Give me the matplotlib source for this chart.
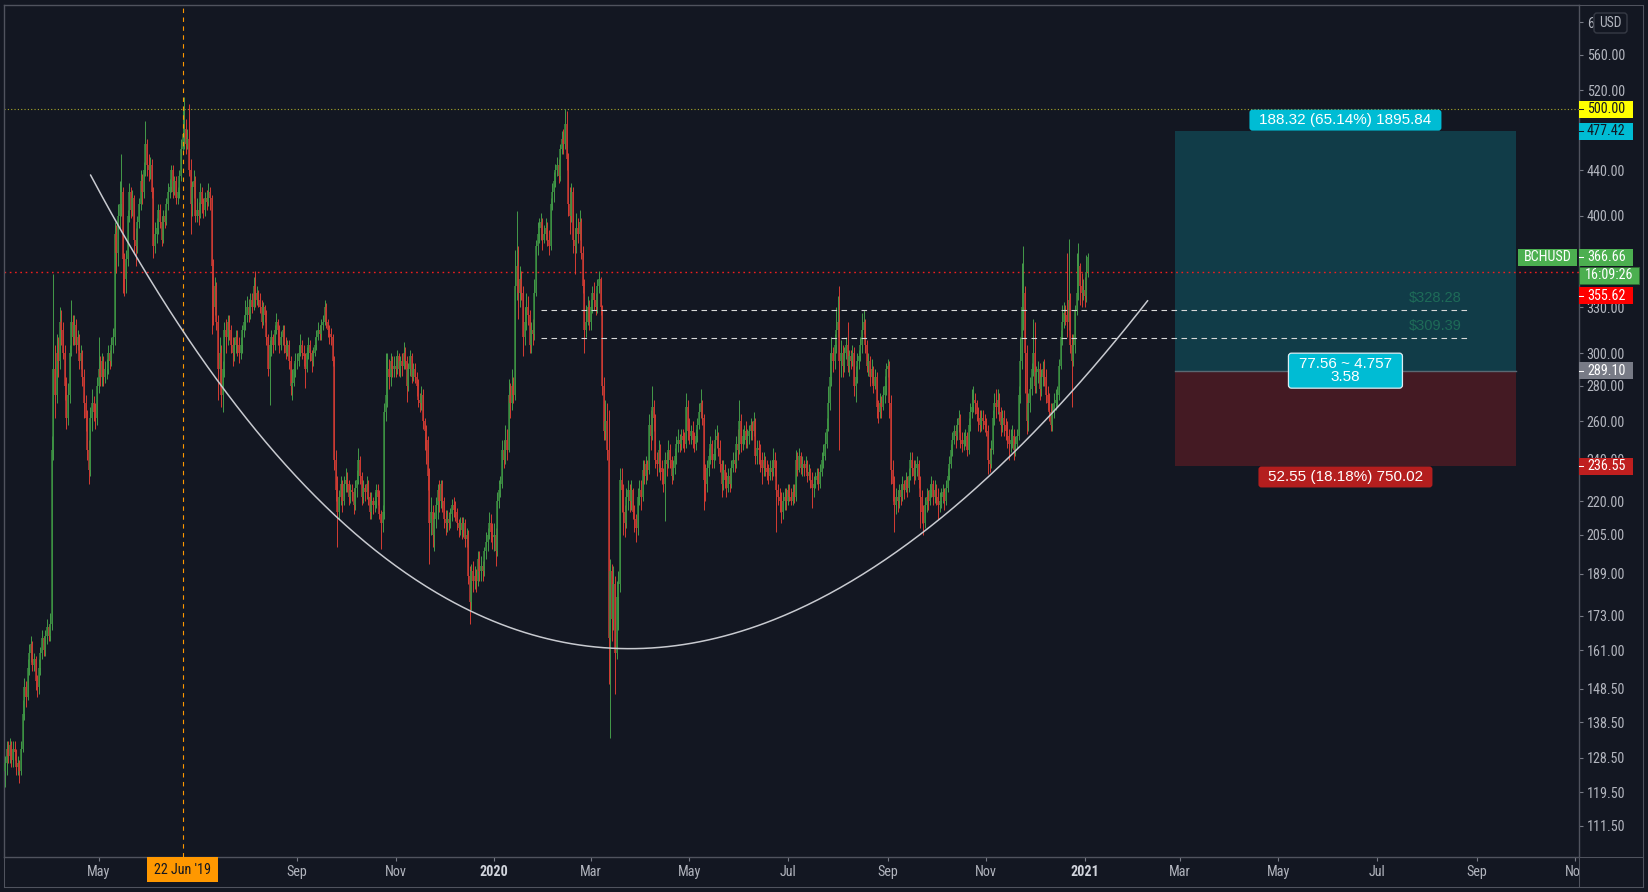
import numpy as np
import pandas as pd
import matplotlib
matplotlib.use("Agg")
import matplotlib.pyplot as plt
import matplotlib.dates as mdates
from matplotlib.collections import LineCollection
from matplotlib.patches import Rectangle, FancyBboxPatch
from matplotlib.lines import Line2D
from matplotlib.transforms import IdentityTransform
from matplotlib.ticker import FixedLocator, FixedFormatter, NullLocator
from matplotlib import font_manager

# ---------------- data (BCHUSD daily) ----------------
start_date = "2019-03-04"
first_open = 125.0

close = [
    # 2019-03
    127,131,129,132,128,131,130,126,127,125,131,141,149,146,155,160,163,156,158,151,149,155,160,165,161,166,169,166,
    # 2019-04
    170,245,290,275,300,295,320,315,300,280,262,275,300,320,310,318,305,310,295,300,285,270,262,245,235,262,270,265,262,280,
    # 2019-05
    290,285,295,285,290,290,300,295,305,310,385,370,400,410,420,365,350,365,400,420,405,415,380,375,395,410,430,420,440,465,445,
    # 2019-06
    440,445,420,375,385,390,405,395,380,400,395,410,420,425,440,420,430,415,420,435,460,475,480,465,470,440,410,425,430,400,
    # 2019-07
    405,400,420,410,405,415,412,420,415,360,330,345,320,290,300,275,290,315,310,320,315,305,300,305,310,305,300,305,315,320,325,
    # 2019-08
    330,325,335,330,345,335,340,335,330,320,330,325,310,290,305,310,305,315,320,315,305,310,315,305,300,305,295,280,282,290,295,
    # 2019-09
    295,300,305,300,298,290,300,305,300,295,300,305,310,315,312,318,320,330,320,315,312,310,295,240,225,215,222,228,220,228,
    # 2019-10
    230,228,222,225,224,218,226,230,240,232,222,226,224,228,222,215,220,218,220,225,222,214,210,215,265,275,290,285,295,290,292,
    # 2019-11
    290,298,290,295,292,300,295,280,290,298,285,290,285,280,272,270,275,260,255,250,232,210,215,205,212,218,225,220,228,220,
    # 2019-12
    212,210,212,210,214,218,216,215,210,208,210,207,210,203,205,188,178,190,186,188,186,195,190,192,190,198,202,205,210,206,204,
    # 2020-01
    205,198,220,225,228,245,240,250,245,275,270,280,275,345,360,340,350,340,310,320,330,325,305,315,312,340,375,385,390,395,380,
    # 2020-02
    385,390,380,375,410,420,430,440,445,435,460,470,465,485,450,410,400,420,380,375,390,385,395,370,345,315,320,330,320,
    # 2020-03
    330,340,335,330,345,350,330,280,255,260,245,165,190,172,185,160,180,185,230,225,215,210,222,225,220,225,215,212,208,222,225,
    # 2020-04
    222,235,232,238,235,258,252,268,262,240,238,245,236,234,228,240,238,245,240,232,236,242,248,250,248,252,250,248,268,255,
    # 2020-05
    252,255,250,248,252,258,265,270,262,230,228,236,242,248,240,243,250,252,246,238,228,235,230,226,232,228,236,240,238,248,245,
    # 2020-06
    260,248,252,255,250,252,255,258,255,260,242,246,245,240,236,240,236,234,232,236,234,240,236,225,222,220,215,220,222,220,
    # 2020-07
    225,222,220,224,222,240,235,242,236,238,236,238,232,234,230,226,228,230,232,228,234,240,242,248,256,270,285,300,295,305,315,
    # 2020-08
    320,295,300,292,300,305,292,298,295,300,280,285,295,298,305,315,320,305,292,295,285,290,280,285,268,265,270,268,275,280,290,
    # 2020-09
    292,270,235,228,218,222,220,225,222,228,225,230,226,232,240,236,232,236,238,230,222,215,210,218,222,220,225,228,222,225,
    # 2020-10
    222,218,220,222,224,220,226,232,238,245,250,255,252,258,262,250,248,250,252,245,258,265,268,272,270,264,262,258,262,260,258,
    # 2020-11
    255,240,238,245,262,270,268,272,265,258,262,258,255,252,248,250,252,245,248,252,275,295,330,340,300,260,270,278,290,300,
    # 2020-12
    280,288,290,278,285,290,285,275,270,265,258,265,270,272,275,292,310,320,326,325,320,335,305,295,305,328,340,360,345,340,342,
    # 2021-01
    338,355.62,366.66,
]

high = [
    129,133,133,134,133,133,133,131,129,128,133,145,152,151,158,163,166,164,160,159,153,158,162,168,166,168,172,170,
    174,252,354,305,312,310,330,328,320,305,285,282,305,335,325,325,322,315,312,305,302,290,275,266,250,268,278,274,270,285,
    310,298,300,298,295,296,305,302,310,316,395,392,410,430,455,425,370,372,405,428,425,422,418,390,400,415,440,436,448,488,470,
    455,452,450,425,395,398,410,410,400,405,405,415,428,432,445,445,435,435,425,440,470,500,513,490,480,505,450,430,440,435,
    415,412,428,425,415,420,422,428,425,418,365,352,348,325,310,305,295,320,322,325,325,318,310,310,315,315,310,310,318,325,335,
    338,336,340,340,352,356,345,342,340,335,334,332,328,312,308,315,312,318,326,322,318,314,318,318,310,308,308,298,290,294,300,
    300,305,312,308,305,300,304,310,308,302,304,310,315,320,318,322,325,335,333,322,318,316,312,298,245,232,225,232,230,232,
    236,234,230,228,228,226,230,235,246,242,234,230,228,232,230,224,224,222,224,228,228,225,216,218,270,300,300,296,300,298,298,
    298,302,300,298,300,307,304,298,294,302,300,294,294,288,284,276,280,278,262,258,252,236,222,218,215,222,228,230,230,230,
    222,216,216,215,217,221,222,220,217,212,213,213,213,212,208,207,192,193,194,192,191,198,198,196,194,200,206,208,215,214,210,
    210,208,224,230,232,250,250,258,256,284,282,290,285,372,404,375,360,356,345,330,340,338,328,320,322,350,380,395,398,402,398,
    392,398,395,388,415,428,438,446,452,450,465,478,480,500,498,456,425,428,425,390,402,398,405,398,375,350,332,338,335,
    336,345,348,340,350,356,352,332,285,272,270,266,195,193,192,188,186,190,236,236,228,218,226,230,228,230,226,218,214,226,230,
    230,240,240,242,240,264,266,280,272,264,244,250,248,240,236,244,244,250,248,242,240,246,252,256,253,256,256,254,276,272,
    262,258,260,254,256,262,270,278,272,264,238,240,246,252,250,246,256,258,254,250,240,240,238,234,236,236,240,244,244,252,256,
    272,264,256,258,260,256,258,262,260,265,262,250,250,248,244,244,242,240,238,240,240,246,244,240,228,226,224,224,226,226,
    228,228,226,228,228,245,244,246,244,242,240,242,240,238,236,234,232,234,236,236,238,244,248,254,262,280,300,310,304,312,330,
    338,345,308,305,304,310,320,302,302,305,304,292,300,302,310,326,328,322,308,300,298,296,292,290,288,272,276,274,280,286,294,
    296,295,275,240,232,226,225,228,228,232,230,234,232,236,244,244,240,240,242,240,232,225,218,222,226,225,228,232,230,230,
    228,226,224,226,228,226,230,236,242,248,254,258,258,262,266,264,254,254,256,254,262,270,278,280,276,272,268,266,266,266,264,
    262,258,246,250,266,276,278,278,276,268,266,266,262,260,256,256,258,256,252,256,280,310,362,375,345,305,276,285,294,322,
    320,292,295,294,290,295,296,290,280,276,270,270,276,278,280,296,315,332,334,332,370,381,340,312,312,332,370,378,362,355,350,
    352,368,370,
]

low = [
    121,124,127,127,126,126,128,124,124,122,124,130,139,143,145,153,157,154,154,148,146,147,153,158,159,159,163,164,
    164,168,240,262,270,285,290,305,296,272,256,258,270,298,305,305,300,302,290,290,280,262,255,240,228,232,255,260,256,258,
    276,280,280,280,282,284,287,290,292,300,305,355,360,390,400,340,338,340,360,395,398,400,370,360,370,390,405,410,415,435,435,
    430,432,415,366,370,378,385,390,375,378,390,392,405,415,420,415,418,410,410,415,430,455,460,455,460,435,385,400,415,395,
    395,392,398,402,398,400,405,408,405,312,318,325,315,272,280,268,265,285,300,305,308,300,292,295,300,298,294,296,300,310,315,
    320,320,322,326,328,330,332,330,326,316,318,320,305,286,269,298,300,302,312,305,300,302,305,300,296,298,290,275,272,280,285,
    290,292,298,296,292,279,288,296,295,288,292,298,302,308,308,308,315,318,316,310,306,305,292,235,220,200,212,218,215,218,
    224,224,218,219,220,214,216,222,228,228,218,219,220,221,218,212,212,214,215,217,218,212,199,206,212,260,268,278,280,285,285,
    285,287,286,285,286,290,290,271,277,286,282,283,282,274,268,265,266,256,245,238,225,193,205,200,198,208,212,215,217,215,
    208,205,206,207,208,211,213,211,207,204,205,203,204,200,200,185,170,175,182,183,182,184,186,186,186,188,195,198,203,202,199,
    198,192,196,217,222,226,236,238,240,244,262,266,270,272,335,322,330,335,298,305,315,318,300,300,305,308,338,368,378,380,372,
    378,380,375,368,372,405,412,425,435,428,430,455,455,460,440,400,385,395,370,354,370,378,380,365,340,300,310,318,315,
    315,326,328,325,326,340,325,275,250,250,240,150,134,164,168,147,158,168,182,215,205,204,208,216,215,216,212,206,202,205,218,
    216,220,228,228,230,233,245,250,255,236,232,234,230,228,224,211,232,236,236,228,230,233,238,244,244,245,246,244,246,250,
    248,248,246,244,245,249,256,262,258,216,220,224,232,238,236,236,240,246,242,234,222,225,226,222,224,224,226,234,234,236,240,
    243,244,245,248,246,246,248,250,250,252,238,238,238,234,228,232,232,230,228,230,230,232,232,206,218,215,210,212,216,216,
    218,220,218,218,219,220,232,234,233,232,232,234,229,230,226,217,222,226,228,225,226,232,236,240,246,255,266,280,288,290,300,
    310,245,285,285,288,296,288,286,290,292,274,271,282,290,295,300,312,300,288,286,280,282,276,278,262,259,262,262,266,270,275,
    285,262,228,220,206,214,215,217,218,220,221,224,222,224,230,232,228,230,232,226,208,210,205,208,215,216,218,222,218,219,
    218,212,215,217,219,216,218,224,230,236,242,248,246,250,254,246,244,245,247,242,243,255,262,265,264,260,255,254,255,256,254,
    252,233,234,236,243,258,262,264,260,252,254,252,250,246,240,244,246,240,242,246,250,270,290,315,276,253,255,265,275,286,
    276,276,282,272,274,280,280,270,266,260,255,255,262,266,268,272,290,305,316,318,310,315,300,268,292,300,325,335,332,330,335,
    330,334,352,
]

# tick values visible on the price scale (ticks hidden under price tags are left out)
y_ticks = [111.5, 119.5, 128.5, 138.5, 148.5, 161, 173, 189, 205, 220, 240, 260,
           280, 300, 330, 400, 440, 520, 560, 600]
x_tick_dates = ["2019-05-01", "2019-09-01", "2019-11-01", "2020-01-01",
                "2020-03-01", "2020-05-01", "2020-07-01", "2020-09-01", "2020-11-01",
                "2021-01-01", "2021-03-01", "2021-05-01", "2021-07-01", "2021-09-01",
                "2021-11-01"]
x_tick_labels = ["May", "Sep", "Nov", "2020", "Mar", "May", "Jul", "Sep", "Nov",
                 "2021", "Mar", "May", "Jul", "Sep", "Nov"]

# drawings
alert_level = 500.00
ref_price = 355.62
last_price = 366.66
cursor_date = "2019-06-22"
cursor_label = "22 Jun '19"
level_prices = [328.28, 309.39]
level_start, level_end = "2020-01-30", "2021-08-26"
entry_price, target_price, stop_price = 289.10, 477.42, 236.55
box_start, box_end = "2021-02-26", "2021-09-25"
target_text = "188.32 (65.14%) 1895.84"
ratio_text = "77.56 ~ 4.757\n3.58"
stop_text = "52.55 (18.18%) 750.02"
countdown_text = "16:09:26"
symbol_text = "BCHUSD"
arc_dates = ["2019-04-26", "2020-02-10", "2021-02-09"]
arc_prices = [435.6, 69.0, 334.8]

# ---------------- style ----------------
BG = "#131722"
FRAME = "#50535e"
TXT = "#b2b5be"
UP_WICK, UP_BODY = "#4caf50", "#3b8f41"
DN_WICK, DN_BODY = "#f44336", "#c93a33"


def pick_font(cands):
    for name in cands:
        try:
            font_manager.findfont(font_manager.FontProperties(family=name),
                                  fallback_to_default=False)
            return name
        except Exception:
            continue
    return "DejaVu Sans"


NARROW = pick_font(["Liberation Sans Narrow", "Roboto Condensed", "Liberation Sans"])
REG = pick_font(["Liberation Sans", "Roboto", "DejaVu Sans"])
NSIZE = 8.6 if NARROW in ("Liberation Sans", "DejaVu Sans") else 10.2

W, H = 1648, 892
PL, PR, PT, PB = 3.5, 1579.0, 5.0, 857.0
XR, YB = 1642.5, 886.5

fig = plt.figure(figsize=(W / 100, H / 100), dpi=100, facecolor=BG)
ax = fig.add_axes([PL / W, 1 - PB / H, (PR - PL) / W, (PB - PT) / H])
ax.set_facecolor(BG)

# ---------------- candles ----------------
dates = pd.date_range(start_date, periods=len(close), freq="D")
xs = mdates.date2num(dates)
c = np.array(close, dtype=float)
o = np.r_[first_open, c[:-1]]
hi = np.maximum(np.array(high, dtype=float), np.maximum(o, c))
lo = np.minimum(np.array(low, dtype=float), np.minimum(o, c))
is_up = c >= o
wick_cols = np.where(is_up, UP_WICK, DN_WICK)
body_cols = np.where(is_up, UP_BODY, DN_BODY)
wicks = [[(x, l), (x, h)] for x, l, h in zip(xs, lo, hi)]
bodies = [[(x, a), (x, b)] for x, a, b in zip(xs, np.minimum(o, c), np.maximum(o, c))]
ax.add_collection(LineCollection(wicks, colors=wick_cols, linewidths=0.6, zorder=3))
ax.add_collection(LineCollection(bodies, colors=body_cols, linewidths=1.1, zorder=3,
                                 capstyle="butt"))

# ---------------- scales ----------------
ax.set_yscale("log")
ax.set_ylim(104.4, 621.8)
d_ref = mdates.date2num(pd.Timestamp("2020-01-01"))
ax.set_xlim(d_ref - 303.9, d_ref + 672.2)

ax.yaxis.tick_right()
ax.yaxis.set_major_locator(FixedLocator(y_ticks))
ax.yaxis.set_major_formatter(FixedFormatter([f"{v:.2f}" for v in y_ticks]))
ax.yaxis.set_minor_locator(NullLocator())
ax.tick_params(axis="y", which="major", direction="out", length=3, width=0.8,
               color="#787b86", pad=2.5, labelsize=NSIZE, labelcolor=TXT,
               labelfontfamily=NARROW)
ax.set_xticks(mdates.date2num(pd.to_datetime(x_tick_dates)))
ax.set_xticklabels(x_tick_labels)
ax.xaxis.set_minor_locator(NullLocator())
ax.tick_params(axis="x", which="major", direction="out", length=3, width=0.8,
               color="#787b86", pad=3, labelsize=NSIZE, labelcolor=TXT,
               labelfontfamily=NARROW)
for lbl in ax.get_xticklabels():
    if lbl.get_text() in ("2020", "2021"):
        lbl.set_fontweight("bold")
        lbl.set_color("#d1d4dc")
for s in ax.spines.values():
    s.set_color(FRAME)
    s.set_linewidth(1.0)

# ---------------- drawings on the chart ----------------
ax.axhline(alert_level, color="#a8a82a", lw=0.8, ls=(0, (1, 2)), zorder=2)
ax.axhline(ref_price, color="#f01e1e", lw=1.0, ls=(0, (1.2, 2.6)), zorder=2)
ax.axvline(mdates.date2num(pd.Timestamp(cursor_date)), color="#ff9800", lw=0.8,
           ls=(0, (4, 4)), zorder=4)

bx0 = mdates.date2num(pd.Timestamp(box_start))
bx1 = mdates.date2num(pd.Timestamp(box_end))
ax.add_patch(Rectangle((bx0, entry_price), bx1 - bx0, target_price - entry_price,
                       fc="#113c48", ec="none", zorder=1))
ax.add_patch(Rectangle((bx0, stop_price), bx1 - bx0, entry_price - stop_price,
                       fc="#441a23", ec="none", zorder=1))
ax.plot([bx0, bx1], [entry_price, entry_price], color="#5a6872", lw=1.0, zorder=1.5)

lx0 = mdates.date2num(pd.Timestamp(level_start))
lx1 = mdates.date2num(pd.Timestamp(level_end))
ax.hlines(level_prices, lx0, lx1, colors="#d8d8d8", lw=0.8,
          linestyles=[(0, (5, 4))], zorder=4)
for v in level_prices:
    ax.annotate(f"${v:.2f}", xy=(lx1, v), xytext=(-4, 6), textcoords="offset points",
                ha="right", va="baseline", color="#1e6b58", fontsize=10.5,
                family=REG, zorder=4)

ad = mdates.date2num(pd.to_datetime(arc_dates))
lp = np.log(np.array(arc_prices))
t = np.linspace(0, 1, 400)
arc_x = (1 - t) ** 2 * ad[0] + 2 * t * (1 - t) * ad[1] + t ** 2 * ad[2]
arc_y = np.exp((1 - t) ** 2 * lp[0] + 2 * t * (1 - t) * lp[1] + t ** 2 * lp[2])
ax.plot(arc_x, arc_y, color="#c8cad0", lw=1.1, zorder=5, solid_capstyle="round")

# ---------------- labels in pixel space ----------------
ID = IdentityTransform()


def pix(xd, yv):
    return ax.transData.transform((xd, yv))


def pix_y(price):
    return pix(ax.get_xlim()[0], price)[1]


def rbox(cx, cy, w, h, fc, text, tc, fs, family, ec="none", lw=0.0, rs=3.0, ls=1.0):
    fig.add_artist(FancyBboxPatch((cx - w / 2, cy - h / 2), w, h,
                                  boxstyle=f"round,pad=0,rounding_size={rs}",
                                  transform=ID, fc=fc, ec=ec, lw=lw, zorder=11))
    fig.text(cx, cy, text, transform=ID, ha="center", va="center", color=tc,
             fontsize=fs, family=family, zorder=12, linespacing=ls)


def tag(price, text, fc, tc, dy=0.0, w=54, h=17):
    yc = pix_y(price) + dy
    fig.add_artist(Rectangle((PR, yc - h / 2), w, h, transform=ID, fc=fc, ec="none",
                             zorder=11))
    fig.add_artist(Line2D([PR, PR + 4], [yc, yc], transform=ID, color=tc, lw=0.75,
                          zorder=12))
    fig.text(PR + 8, yc, text, transform=ID, ha="left", va="center", color=tc,
             fontsize=NSIZE, family=NARROW, zorder=12)


cx_box = pix((bx0 + bx1) / 2, entry_price)[0]
rbox(cx_box, pix_y(target_price) + 11, 192, 21, "#00bcd4", target_text, "white",
     11, REG)
rbox(cx_box, pix_y(entry_price), 114, 35, "#00bcd4", ratio_text, "white", 11, REG,
     ec="#dcecf2", lw=0.9, ls=0.95)
rbox(cx_box, pix_y(stop_price) - 10.5, 174, 21, "#b41e1e", stop_text, "white",
     11, REG)

tag(alert_level, f"{alert_level:.2f}", "#ffff00", "#131722")
tag(target_price, f"{target_price:.2f}", "#00bcd4", "#131722")
tag(last_price, f"{last_price:.2f}", "#4caf50", "white")
yc_last = pix_y(last_price)
fig.add_artist(Rectangle((PR, yc_last - 18.1 - 8.5), 60, 17, transform=ID,
                         fc="#4caf50", ec="#2e6b31", lw=0.6, zorder=11))
fig.text(PR + 30, yc_last - 18.1, countdown_text, transform=ID, ha="center",
         va="center", color="white", fontsize=NSIZE, family=NARROW, zorder=12)
fig.add_artist(Rectangle((1518, yc_last - 8.5), 59, 17, transform=ID, fc="#4caf50",
                         ec="none", zorder=11))
fig.text(1547.5, yc_last, symbol_text, transform=ID, ha="center", va="center",
         color="white", fontsize=NSIZE, family=NARROW, zorder=12)
tag(ref_price, f"{ref_price:.2f}", "#ff0000", "white", dy=-23.9)
tag(entry_price, f"{entry_price:.2f}", "#787b86", "white")
tag(stop_price, f"{stop_price:.2f}", "#c01f1f", "white")

# USD badge
fig.add_artist(FancyBboxPatch((1594, H - 33), 33, 20,
                              boxstyle="round,pad=0,rounding_size=3", transform=ID,
                              fc=BG, ec="#363a45", lw=1.0, zorder=11))
fig.text(1610.5, H - 23, "USD", transform=ID, ha="center", va="center", color=TXT,
         fontsize=NSIZE - 0.4, family=NARROW, zorder=12)

# cursor date badge
cxp = pix(mdates.date2num(pd.Timestamp(cursor_date)), 200)[0]
fig.add_artist(Rectangle((cxp - 35.5, H - 882), 71, 25, transform=ID, fc="#ff9800",
                         ec="none", zorder=11))
fig.text(cxp, H - 869.5, cursor_label, transform=ID, ha="center", va="center",
         color="#131722", fontsize=NSIZE, family=NARROW, zorder=12)

# ---------------- frame of the price / time panels ----------------
fig.add_artist(Rectangle((PR + 0.8, H - YB + 0.6), XR - PR - 1.4, YB - PB - 1.2,
                         transform=ID, fc=BG, ec="none", zorder=9))


def fline(x0, y0, x1, y1):
    fig.add_artist(Line2D([x0, x1], [H - y0, H - y1], transform=ID, color=FRAME,
                          lw=0.75, zorder=10))


fline(PR, PT, XR, PT)
fline(XR, PT, XR, YB)
fline(PL, YB, XR, YB)
fline(PL, PB, PL, YB)
fline(PR, PB, XR, PB)
fline(PR, PB, PR, YB)

fig.savefig("out.png", dpi=100, facecolor=BG)
